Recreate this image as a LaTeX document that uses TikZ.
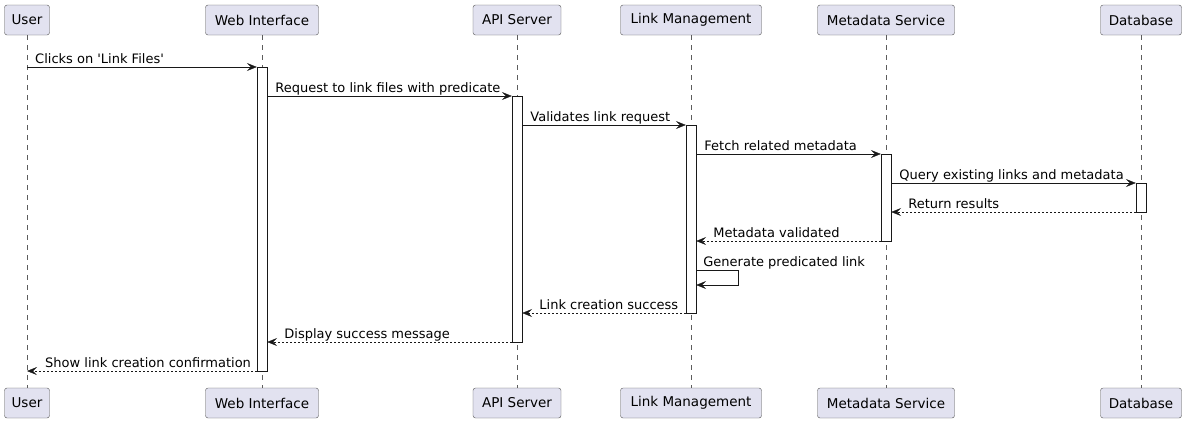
\documentclass[tikz,border=0pt]{standalone}
\usepackage{fontspec}
\setmainfont{DejaVu Sans}
\newfontfamily\umlfont{DejaVu Sans}
\usetikzlibrary{arrows.meta}
\definecolor{partfill}{HTML}{E2E2F0}
\definecolor{lineclr}{HTML}{181818}

\begin{document}
\begin{tikzpicture}[x=1pt,y=-1pt,font=\umlfont\fontsize{13}{15}\selectfont]
                \tikzstyle{part}=[draw=lineclr!75,fill=partfill,rounded corners=2.5pt,minimum height=30pt,inner xsep=6pt,inner ysep=0pt,font=\umlfont\fontsize{13.5}{15}\selectfont]
                \tikzstyle{life}=[draw=lineclr!70,dash pattern=on 5pt off 5pt,line width=0.5pt]
                \tikzstyle{bar}=[draw=lineclr,fill=white,minimum width=10pt,inner sep=0pt]
                \tikzstyle{call}=[draw=lineclr,-{Stealth[length=10pt,width=8pt,inset=4pt]}]
                \tikzstyle{reply}=[call,dash pattern=on 2pt off 2pt]
                \tikzstyle{lbl}=[anchor=base west,inner sep=0pt,yshift=4pt]

                \useasboundingbox (0,0) rectangle (1186,424);

                \foreach \nm/\x/\w/\txt in {user/27/45/User, web/262/113/Web Interface, api/517/88/API Server, link/691/141/Link Management, meta/886/137/Metadata Service, db/1141/81/Database}{
                        \node[part,minimum width=\w] (T-\nm) at (\x,20) {\txt};
                        \node[part,minimum width=\w] (B-\nm) at (\x,403) {\txt};
                        \draw[life] (T-\nm) -- (B-\nm);
                }
                \foreach \nm/\x/\top/\bot in {web/262/67/371, api/517/96/342, link/691/125/313, meta/886/154/241, db/1141/183/212}
                        \node[bar,minimum height={\bot-\top}] (A-\nm) at (\x,{(\top+\bot)/2}) {};

                \foreach \i/\y in {1/67, 2/96, 3/125, 4/154, 5/183, 6/212, 7/241, 8/270, 9/313, 10/342, 11/371}
                        \coordinate (m\i) at (0,\y);

                    \draw[call] (T-user |- m1) node[lbl,xshift=8pt] {Clicks on 'Link Files'} -- (A-web.west |- m1);
                    \draw[call] (A-web.east |- m2) node[lbl,xshift=8pt] {Request to link files with predicate} -- (A-api.west |- m2);
                    \draw[call] (A-api.east |- m3) node[lbl,xshift=8pt] {Validates link request} -- (A-link.west |- m3);
                    \draw[call] (A-link.east |- m4) node[lbl,xshift=8pt] {Fetch related metadata} -- (A-meta.west |- m4);
                    \draw[call] (A-meta.east |- m5) node[lbl,xshift=8pt] {Query existing links and metadata} -- (A-db.west |- m5);

                    \draw[reply] (A-db.west |- m6) -- (A-meta.east |- m6) node[lbl,xshift=17pt] {Return results};
                    \draw[reply] (A-meta.west |- m7) -- (A-link.east |- m7) node[lbl,xshift=17pt] {Metadata validated};

                    \draw[call] (A-link.east |- m8) node[lbl,xshift=7pt] {Generate predicated link} -- ++(42,0) -- ++(0,15) -- ++(-42,0);

                    \draw[reply] (A-link.west |- m9) -- (A-api.east |- m9) node[lbl,xshift=17pt] {Link creation success};
                    \draw[reply] (A-api.west |- m10) -- (A-web.east |- m10) node[lbl,xshift=17pt] {Display success message};
                    \draw[reply] (A-web.west |- m11) -- (T-user |- m11) node[lbl,xshift=18pt] {Show link creation confirmation};
            \end{tikzpicture}
\end{document}
